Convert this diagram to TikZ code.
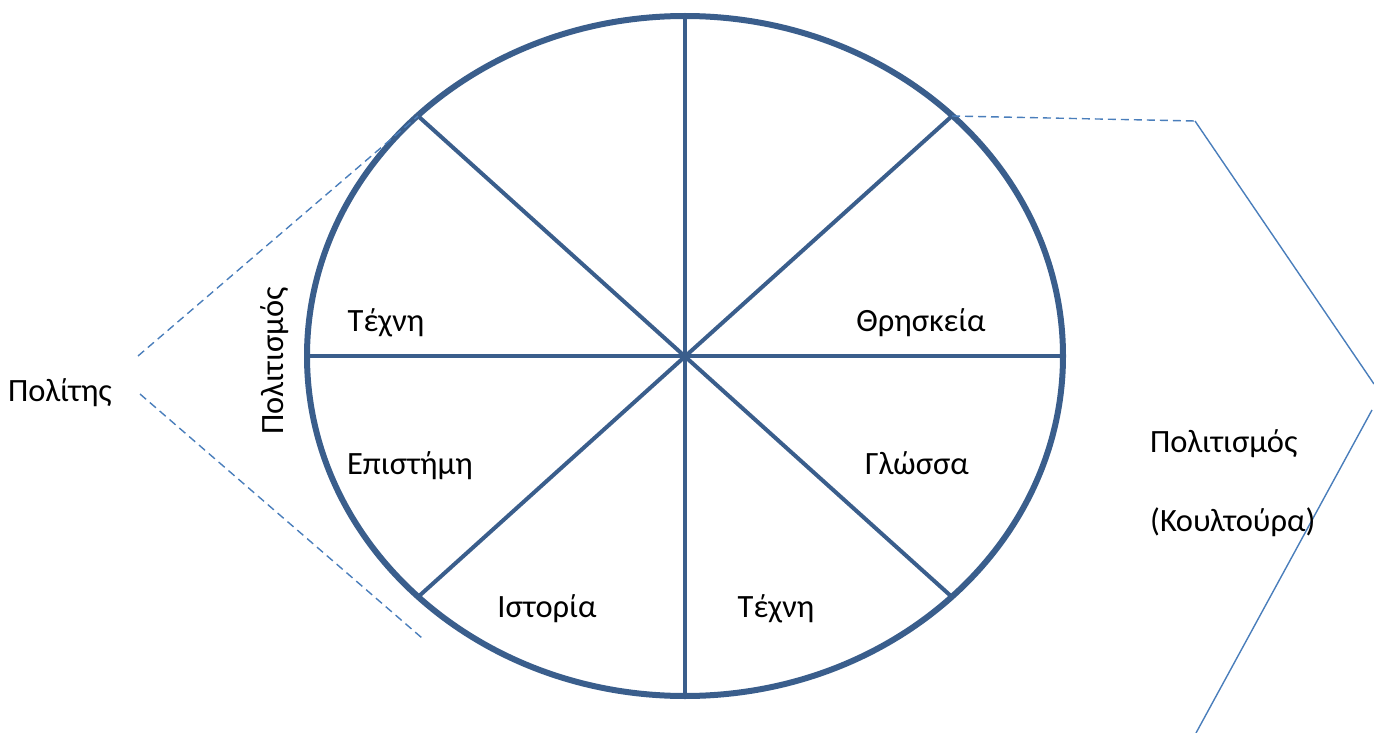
\documentclass[tikz,border=0pt]{standalone}
\usepackage{fontspec}
\setmainfont{Carlito}
\definecolor{darkblue}{HTML}{3A5E8C}
\definecolor{lightblue}{HTML}{4A7EBB}
\begin{document}
\begin{tikzpicture}[x=1pt,y=-1pt,
  rim/.style={draw=darkblue,line width=6pt},
  spoke/.style={draw=darkblue,line width=4pt},
  dashline/.style={draw=lightblue,line width=1.4pt,dash pattern=on 8pt off 5pt},
  thinline/.style={draw=lightblue,line width=1.4pt},
  lbl/.style={font=\fontsize{32.5}{38}\selectfont,inner sep=0pt,anchor=base}]
\useasboundingbox (0,0) rectangle (1374,733);
\coordinate (c) at (685,356);
\coordinate (n) at (685,17);
\coordinate (s) at (685,696);
\coordinate (w) at (307,356);
\coordinate (e) at (1063,356);
\coordinate (nw) at (418,116);
\coordinate (ne) at (952,116);
\coordinate (sw) at (418,597);
\coordinate (se) at (952,597);
% spokes
\draw[spoke] (n) -- (s);
\draw[spoke] (w) -- (e);
\draw[spoke] (nw) -- (se);
\draw[spoke] (ne) -- (sw);
\draw[rim] (c) ellipse [x radius=378, y radius=340];
% left dashed lines
\coordinate (l1) at (138,356);
\coordinate (l2) at (140,394);
\coordinate (l3) at (422,638);
\draw[dashline] (l1) -- (nw);
\draw[dashline] (l2) -- (l3);
% right lines
\coordinate (r1) at (1195,121);
\coordinate (r2) at (1374,384);
\coordinate (r3) at (1372,410);
\coordinate (r4) at (1196,733);
\draw[dashline] (ne) -- (r1);
\draw[thinline] (r1) -- (r2);
\draw[thinline] (r3) -- (r4);
% labels
\node[lbl] (politis) at (60,401) {Πολίτης};
\node[font=\fontsize{32.5}{38}\selectfont,inner sep=0pt,rotate=90] (polv) at (275,361) {Πολιτισμός};
\node[lbl] (techni1) at (386,331) {Τέχνη};
\node[lbl] (thriskeia) at (921,331) {Θρησκεία};
\node[lbl] (episteme) at (410,474) {Επιστήμη};
\node[lbl] (glossa) at (917,474) {Γλώσσα};
\node[lbl] (istoria) at (547,617) {Ιστορία};
\node[lbl] (techni2) at (776,617) {Τέχνη};
\node[lbl,anchor=base west] (polr) at (1150,452) {Πολιτισμός};
\node[lbl,anchor=base west] (koult) at (1150,531) {(Κουλτούρα)};
\end{tikzpicture}
\end{document}
